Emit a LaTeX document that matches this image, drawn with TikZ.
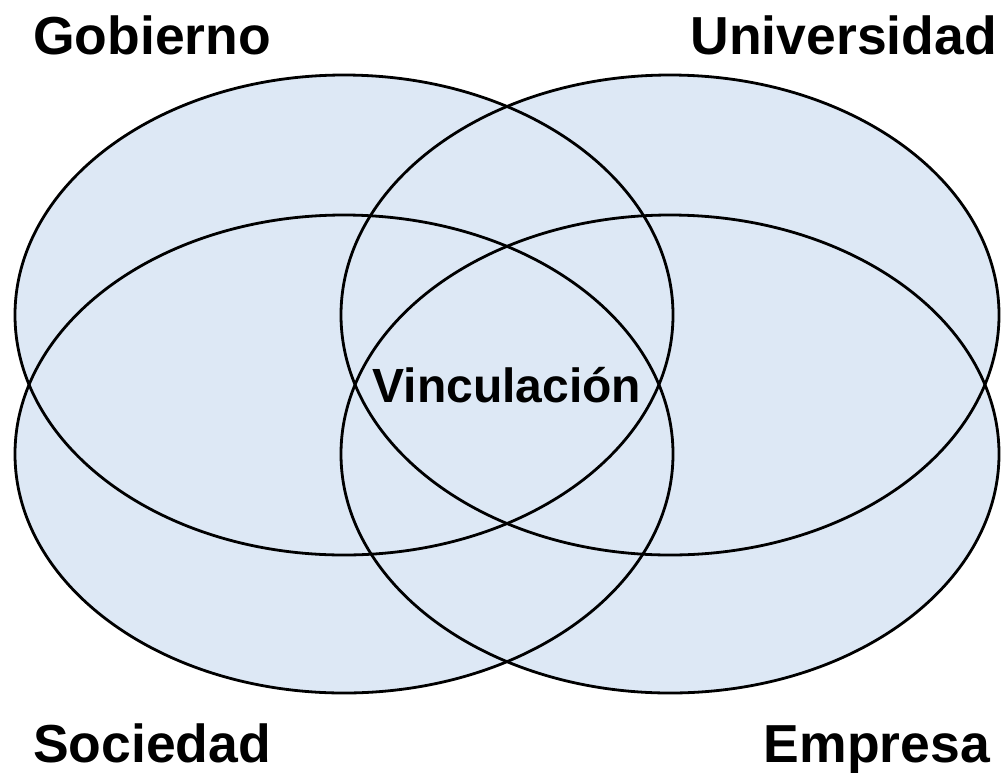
\documentclass[tikz,border=0pt]{standalone}
\usepackage{fontspec}
\setmainfont{Liberation Sans}
\begin{document}
\begin{tikzpicture}[x=1pt,y=-1pt,
  blob/.style={fill=vennblue},
  rim/.style={draw=black,line width=2.8pt},
  lbl/.style={font=\bfseries\fontsize{53.5}{60}\selectfont,inner sep=0pt,text depth=0pt},
  midlbl/.style={font=\bfseries\fontsize{48}{56}\selectfont,inner sep=0pt}]
\definecolor{vennblue}{RGB}{221,232,245}
\useasboundingbox (0,0) rectangle (1003,772);
% fills
\fill[blob] (344,315) ellipse [x radius=329, y radius=240];
\fill[blob] (670,315) ellipse [x radius=329, y radius=240];
\fill[blob] (344,454) ellipse [x radius=329, y radius=239];
\fill[blob] (670,454) ellipse [x radius=329, y radius=239];
% outlines
\draw[rim] (344,315) ellipse [x radius=329, y radius=240];
\draw[rim] (670,315) ellipse [x radius=329, y radius=240];
\draw[rim] (344,454) ellipse [x radius=329, y radius=239];
\draw[rim] (670,454) ellipse [x radius=329, y radius=239];
% labels
\node[lbl,anchor=base west] (gob) at (33,54) {Gobierno};
\node[lbl,anchor=base east] (uni) at (997,54) {Universidad};
\node[lbl,anchor=base west] (soc) at (33,762) {Sociedad};
\node[lbl,anchor=base east] (emp) at (990,762) {Empresa};
\node[midlbl,anchor=base] (vin) at (507,402) {Vinculación};
\end{tikzpicture}
\end{document}
